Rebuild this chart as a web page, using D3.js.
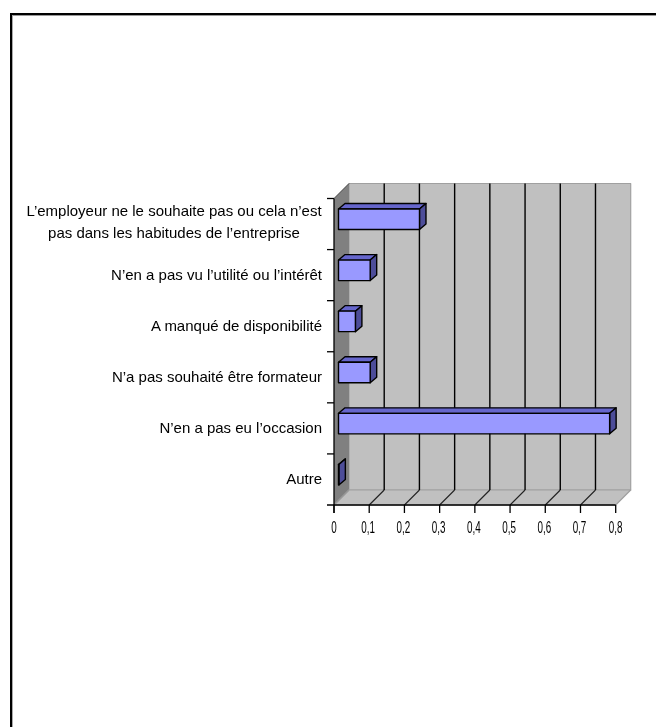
<!DOCTYPE html>
<html><head><meta charset="utf-8">
<script src="https://cdn.jsdelivr.net/npm/d3@7"></script>
<style>html,body{margin:0;padding:0;background:#fff}svg{display:block;filter:blur(0.35px)}text{font-family:"Liberation Sans",sans-serif;font-size:15px;fill:#000}text.tick{font-size:17px}</style>
</head><body><svg id="c" width="656" height="727"></svg>
<script>
const categories=["L’employeur ne le souhaite pas ou cela n’est|pas dans les habitudes de l’entreprise","N’en a pas vu l’utilité ou l’intérêt","A manqué de disponibilité","N’a pas souhaité être formateur","N’en a pas eu l’occasion","Autre"];
const values=[0.23,0.09,0.048,0.09,0.77,0.001];
const ticks=[0,0.1,0.2,0.3,0.4,0.5,0.6,0.7,0.8];
const tickLabels=["0","0,1","0,2","0,3","0,4","0,5","0,6","0,7","0,8"];
const svg=d3.select("#c");
const x=d3.scaleLinear().domain([0,0.8]).range([334,615.7]);
const y=d3.scaleBand().domain(categories).range([198.5,505]);
const dx=15,dy=-15,bx=4.5,bdx=6.5,bdy=-5.5,padTop=10.5,barH=20.5;
const poly=(pts,fill,stroke,sw)=>svg.append("path").attr("d","M"+pts.map(p=>p.join(",")).join("L")+"Z").attr("fill",fill).attr("stroke",stroke||"none").attr("stroke-width",sw||0).attr("stroke-linejoin","round");
const line=(a,b,c,sw)=>svg.append("line").attr("x1",a[0]).attr("y1",a[1]).attr("x2",b[0]).attr("y2",b[1]).attr("stroke",c||"#000").attr("stroke-width",sw||1);
// page frame: only top and left edges are visible
line([11,14],[656,14],"#000",2);
line([11,15.5],[656,15.5],"#999",1);
line([11,13],[11,727],"#000",2);
line([12.5,15],[12.5,727],"#aaa",1);
const x0=x(0),x1=x(0.8),yT=y.range()[0],yB=y.range()[1];
poly([[x0+dx,yT+dy],[x1+dx,yT+dy],[x1+dx,yB+dy],[x0+dx,yB+dy]],"#c0c0c0","#a0a0a0",1.2);
poly([[x0,yT],[x0+dx,yT+dy],[x0+dx,yB+dy],[x0,yB]],"#808080");
poly([[x0,yB],[x0+dx,yB+dy],[x1+dx,yB+dy],[x1,yB]],"#c0c0c0","#a0a0a0",1.2);
ticks.forEach(t=>{
  if(t>0&&t<0.8)line([x(t)+dx,yT+dy],[x(t)+dx,yB+dy],"#000",1.4);
  if(t<0.8)line([x(t),yB],[x(t)+dx,yB+dy],t===0?"#999":"#222",1.1);
});
line([x0,yT],[x0+dx,yT+dy],"#444",1);
categories.forEach((c,i)=>{
  const v=values[i],L=x0+bx,R=L+(x(v)-x0),T=y(c)+padTop,B=T+barH;
  poly([[L,T],[L+bdx,T+bdy],[R+bdx,T+bdy],[R,T]],"#6666cc","#000",1.4);
  poly([[R,T],[R+bdx,T+bdy],[R+bdx,B+bdy],[R,B]],"#4d4d99","#000",1.4);
  poly([[L,T],[R,T],[R,B],[L,B]],"#9999ff","#000",1.4);
});
const ax=svg.append("g");
line([x0,yT],[x0,yB+8],"#000",1.3);
line([x0-7,yB],[x1,yB],"#000",1.3);
y.domain().forEach(c=>line([x0-7,y(c)],[x0,y(c)],"#000",1.3));
ticks.forEach((t,i)=>{
  line([x(t),yB],[x(t),yB+8],"#000",1.3);
  ax.append("text").attr("class","tick").attr("transform",`translate(${x(t)-(t>0&&t<0.8?1:0)},533) scale(0.58,1)`).attr("text-anchor","middle").text(tickLabels[i]);
});
categories.forEach(c=>{
  const ls=c.split("|"),cy=y(c)+y.bandwidth()/2;
  if(ls.length>1){
    const t=ax.append("text").attr("text-anchor","middle");
    ls.forEach((l,j)=>t.append("tspan").attr("x",174).attr("y",cy+3+(j-0.5)*22).text(l));
  } else ax.append("text").attr("x",322).attr("y",cy+5).attr("text-anchor","end").text(ls[0]);
});
</script></body></html>
